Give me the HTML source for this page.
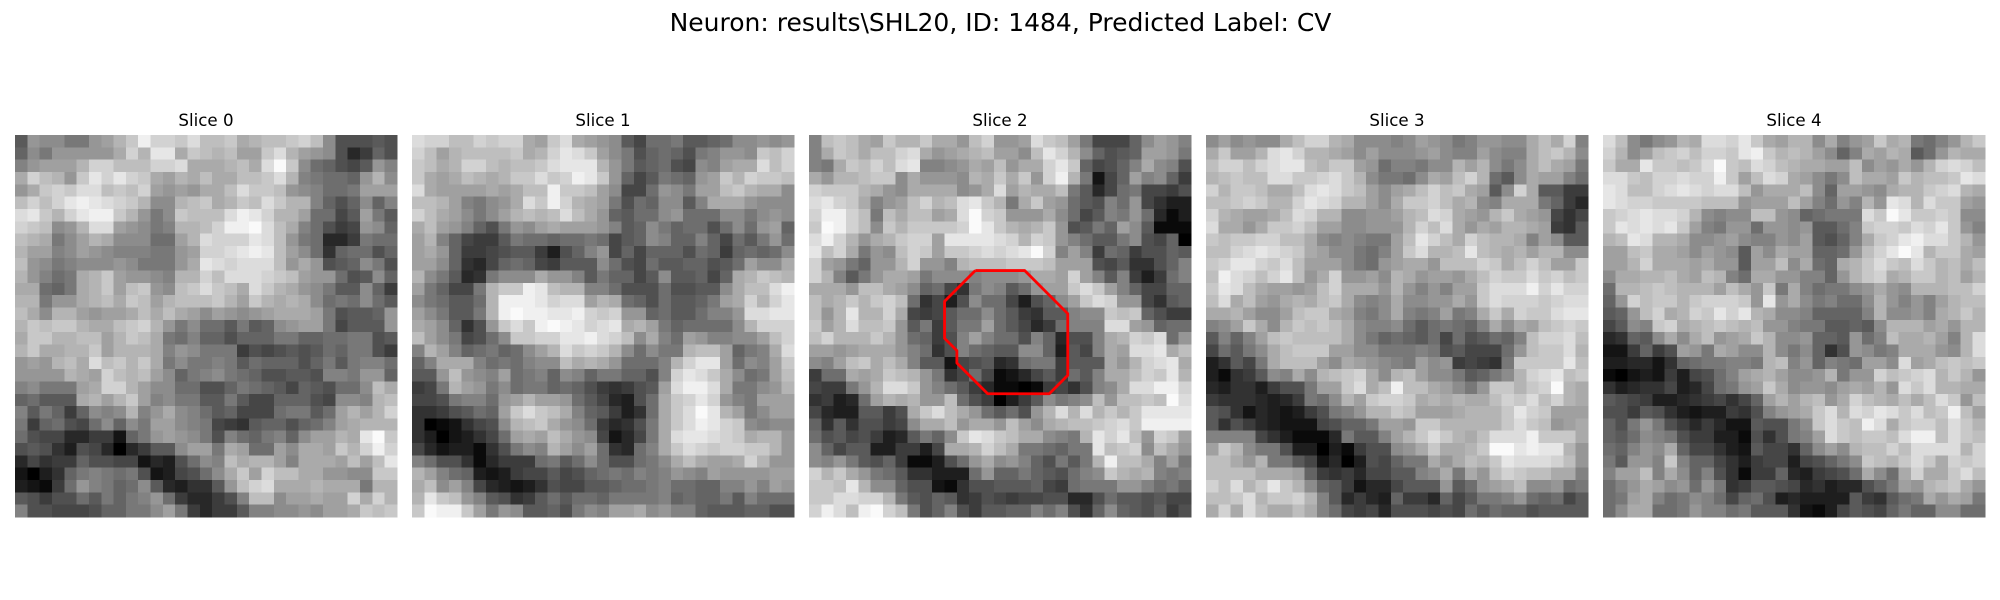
<!DOCTYPE html>
<html>
<head>
<meta charset="utf-8">
<title>Neuron slices</title>
<style>
html,body{margin:0;padding:0;background:#fff;width:2000px;height:600px;overflow:hidden}
svg{display:block}
text{font-family:"DejaVu Sans",sans-serif;fill:#000}
</style>
</head>
<body>
<svg id="chart" width="2000" height="600" viewBox="0 0 2000 600" xmlns="http://www.w3.org/2000/svg">
<rect width="2000" height="600" fill="#fff"/>
<text x="1000.5" y="31" font-size="25" text-anchor="middle">Neuron: results\SHL20, ID: 1484, Predicted Label: CV</text>
</svg>
<script>
const sliceTitles = ["Slice 0","Slice 1","Slice 2","Slice 3","Slice 4"];
const contourSlice = 2;
const contourX = [13,17,20.5,20.5,19,14,11.5,11.5,10.5,10.5,13];
const contourY = [10.5,10.5,14,19,20.5,20.5,18,17,16,13,10.5];
const slice0 = [
[9,15,14,14,12,12,15,16,18,20,24,21,21,20,22,19,19,20,17,18,19,19,20,21,19,14,8,8,8,9,8],
[10,14,12,15,15,15,15,15,17,21,18,23,23,17,20,19,18,19,16,16,20,22,18,16,15,14,8,4,6,10,8],
[13,15,16,16,16,18,21,21,19,19,19,21,21,22,17,17,17,18,19,17,22,25,20,14,11,10,8,7,9,15,13],
[17,21,19,18,15,20,23,21,23,21,20,17,16,18,17,19,17,17,19,19,20,22,18,13,12,11,11,10,15,18,14],
[15,17,20,21,20,22,22,19,20,19,21,16,15,16,15,17,17,19,22,20,20,19,15,14,13,11,11,12,16,16,16],
[19,21,19,21,23,24,23,22,21,20,18,14,14,18,19,20,17,18,20,19,22,20,18,18,13,10,8,10,14,10,13],
[22,23,20,18,21,23,24,24,20,18,15,12,14,20,19,19,19,22,24,23,21,18,18,16,11,11,7,9,16,12,9],
[21,20,19,14,15,18,22,22,16,15,14,12,13,18,18,19,21,24,24,25,22,19,17,13,11,8,6,7,15,14,10],
[19,18,17,12,14,16,18,17,14,14,14,11,11,16,18,22,21,21,21,23,22,19,15,12,11,4,4,6,12,11,11],
[18,16,16,13,14,16,15,14,13,13,13,12,12,15,16,21,21,22,23,24,23,19,16,14,11,5,10,11,11,8,10],
[19,15,14,12,13,14,14,14,15,14,12,12,12,15,17,23,22,21,22,22,22,19,15,17,15,8,9,10,14,12,8],
[18,15,13,11,12,17,18,20,16,15,15,14,13,18,18,21,19,22,22,22,21,20,19,16,15,15,11,8,9,14,10],
[17,17,11,10,12,17,18,20,16,19,20,15,14,19,20,22,20,19,17,22,20,18,17,15,14,12,9,9,14,10,6],
[18,18,12,15,15,17,18,19,17,20,19,16,18,19,19,19,20,18,16,20,18,17,18,17,14,11,12,11,14,11,9],
[19,17,14,18,18,16,15,16,16,17,19,17,19,17,16,14,16,15,14,15,16,17,17,17,16,12,8,9,9,10,15],
[18,20,19,20,20,18,17,17,19,20,21,18,15,12,14,11,11,9,12,9,10,14,15,16,16,12,7,9,9,9,15],
[17,20,20,18,18,19,19,16,18,20,19,17,12,11,13,10,10,8,10,10,10,12,12,10,10,11,11,12,12,8,9],
[18,20,17,17,18,18,20,16,18,18,18,17,13,15,14,12,12,12,6,8,7,8,9,8,9,11,10,12,12,8,6],
[15,16,15,18,19,17,22,19,20,18,20,17,12,14,12,12,13,12,9,11,10,10,10,8,10,12,9,12,13,13,11],
[15,15,15,15,18,17,16,21,19,18,19,16,14,10,12,13,14,12,11,10,8,8,9,9,8,13,13,12,15,15,10],
[13,14,12,12,12,16,17,21,21,18,16,14,14,11,11,8,8,10,12,11,10,9,7,10,9,8,11,11,14,19,17],
[10,11,9,9,9,17,18,16,18,20,16,13,14,12,12,9,9,12,9,7,7,10,10,10,8,7,14,14,13,18,19],
[13,9,12,10,6,10,14,13,14,18,13,15,17,14,13,11,9,10,7,7,7,11,12,12,9,11,16,18,16,18,21],
[12,6,10,11,8,7,11,14,10,14,12,16,16,14,13,12,7,6,5,9,10,10,8,10,11,13,16,17,18,18,18],
[11,8,7,7,4,4,6,6,2,10,12,15,16,15,14,12,8,13,11,10,12,13,10,14,16,16,18,17,23,25,20],
[8,9,8,5,3,8,7,4,0,4,6,9,9,14,16,16,12,17,16,11,11,16,14,17,17,16,20,18,21,24,21],
[4,7,5,6,6,10,8,8,7,7,2,4,3,8,11,14,13,19,17,18,18,16,13,17,17,17,16,19,16,19,23],
[2,0,3,5,10,12,13,12,11,12,8,2,3,7,8,11,14,17,20,16,21,19,19,17,17,15,15,14,14,20,20],
[3,2,1,6,11,15,13,12,10,11,14,9,4,3,5,5,9,15,19,21,22,17,17,17,18,17,17,17,12,18,18],
[9,8,6,8,8,11,9,12,10,12,13,15,11,6,4,4,6,8,13,19,19,14,16,16,17,16,16,21,17,21,18],
[13,8,8,7,7,7,8,10,10,12,12,14,16,12,6,4,6,6,9,13,13,14,14,15,14,16,16,17,20,19,20]
];
const slice1 = [
[22,21,21,19,19,21,20,21,21,17,16,20,22,17,16,15,14,9,7,11,11,12,9,9,10,11,14,14,15,14,15],
[21,19,16,18,19,19,19,19,20,17,18,21,23,22,20,16,14,12,8,10,11,10,8,12,13,15,15,14,20,19,21],
[20,19,17,18,21,21,19,18,19,19,20,22,23,23,23,18,15,12,9,10,11,8,7,14,13,16,17,17,22,19,21],
[20,17,16,17,19,18,17,18,20,20,22,20,21,24,23,20,15,10,7,9,12,11,10,15,16,20,18,21,20,20,19],
[22,17,16,16,16,16,17,16,17,19,19,24,20,20,19,16,14,7,7,11,15,14,12,16,16,19,20,18,17,17,14],
[19,19,18,16,13,12,14,15,17,22,20,24,21,18,17,16,12,8,11,10,14,14,9,13,17,17,17,15,14,14,14],
[21,19,17,16,14,12,14,16,18,19,18,19,22,19,17,15,10,9,11,11,14,15,11,11,11,14,14,12,14,15,14],
[17,19,16,15,13,10,8,12,15,14,16,17,16,16,16,15,13,9,10,14,12,10,11,11,8,11,14,11,15,16,10],
[16,18,13,10,7,6,6,9,12,11,11,10,11,11,12,11,7,9,10,14,13,10,10,13,10,7,11,9,12,15,11],
[16,17,15,10,6,6,7,8,9,9,6,3,8,10,13,15,7,10,7,10,10,10,8,11,10,6,10,11,10,11,14],
[16,16,14,10,5,4,7,10,11,10,7,6,9,9,9,14,11,8,7,11,9,9,10,10,8,9,11,16,14,14,17],
[18,14,12,9,4,5,12,14,14,14,17,15,15,13,9,12,10,10,7,9,14,9,9,10,7,10,17,18,20,19,18],
[16,12,10,7,7,12,18,20,20,24,23,19,18,18,13,13,11,8,8,8,11,8,8,9,9,14,17,19,19,22,24],
[14,12,11,9,9,11,18,24,24,24,23,21,22,22,16,18,17,11,10,8,11,9,9,10,12,16,17,21,18,21,23],
[16,14,12,9,9,12,18,24,25,24,24,23,23,24,21,20,21,15,15,10,11,9,9,11,13,13,15,22,22,23,23],
[17,16,14,10,5,8,15,20,22,20,24,25,24,23,21,22,23,17,18,16,12,10,11,11,11,11,14,18,21,21,21],
[19,16,14,12,7,8,11,14,20,20,21,21,23,23,24,22,21,19,14,17,13,11,16,15,13,13,14,14,16,19,21],
[13,18,16,13,10,11,12,10,11,14,16,18,22,20,21,20,18,14,11,14,12,12,18,19,19,16,10,12,13,17,22],
[10,13,17,17,17,13,11,12,11,13,14,14,19,17,18,17,15,11,11,11,13,18,21,23,23,16,11,14,13,16,20],
[9,9,15,19,15,14,13,16,11,12,13,10,14,13,10,12,12,10,10,8,13,21,23,22,20,17,14,11,12,16,19],
[6,7,12,18,16,15,12,14,11,12,12,10,11,10,8,6,5,6,8,9,16,22,24,24,22,17,12,12,14,15,18],
[7,7,8,12,13,13,11,15,16,18,16,16,15,11,9,7,4,3,8,11,17,20,21,23,21,15,13,12,16,16,16],
[5,5,6,8,9,11,10,16,20,22,20,19,17,13,10,9,6,3,5,11,17,20,22,25,23,18,16,12,14,16,16],
[5,0,1,2,5,7,8,14,18,19,20,17,15,14,11,6,4,5,8,12,17,20,22,24,23,21,20,14,13,14,14],
[5,3,0,2,3,5,7,11,16,17,16,19,17,15,14,7,2,4,7,12,17,22,23,23,22,21,20,17,18,18,15],
[7,4,2,3,3,1,5,8,12,14,13,18,16,14,16,11,5,4,11,13,17,20,22,21,20,21,21,20,20,18,15],
[13,11,8,8,5,1,4,6,6,6,11,12,9,11,14,11,8,8,11,12,14,17,19,17,16,16,17,21,18,15,15],
[18,16,13,11,10,3,2,3,6,7,7,9,7,8,10,11,12,11,13,12,13,15,14,13,16,15,15,15,15,16,16],
[17,19,14,16,13,7,4,3,2,3,5,8,7,7,9,9,10,11,11,12,13,11,11,10,10,13,13,15,13,16,15],
[18,23,20,19,15,13,9,8,5,6,9,11,9,11,11,10,12,12,12,12,13,10,11,10,10,12,9,13,11,11,11],
[20,25,24,24,20,16,12,15,14,9,9,10,8,12,14,13,16,16,17,14,15,13,13,10,9,9,9,10,10,8,8]
];
const slice2 = [
[13,19,20,19,17,16,20,18,18,20,17,17,15,19,21,15,15,16,22,20,19,16,12,7,7,7,10,14,16,15,13],
[13,17,20,19,17,19,19,21,22,17,15,16,17,18,19,16,16,14,19,23,21,18,14,10,8,9,10,16,16,15,12],
[13,12,17,20,19,21,19,22,23,13,13,14,15,17,16,19,15,17,17,21,23,20,10,7,8,10,13,17,14,13,8],
[17,15,18,18,19,20,20,14,17,15,15,15,14,18,17,20,17,20,15,21,24,18,12,2,7,10,16,13,14,10,6],
[21,20,20,20,18,17,15,14,17,17,17,17,14,15,17,22,16,18,17,17,19,12,9,4,7,11,12,7,7,6,8],
[22,23,21,20,17,13,15,16,19,21,18,19,22,23,20,18,12,17,20,16,15,11,9,8,13,11,15,7,5,3,3],
[21,24,24,21,19,12,19,17,19,19,16,17,22,25,21,20,15,15,15,17,14,11,7,9,13,12,15,11,4,1,3],
[20,25,24,21,19,14,20,18,20,20,20,20,21,25,23,20,18,17,18,20,15,8,9,12,10,16,14,9,1,1,1],
[22,24,21,18,15,17,18,20,21,21,16,23,23,23,23,22,21,18,21,20,15,13,11,9,9,12,14,8,7,10,0],
[23,19,21,17,12,15,14,19,21,20,16,20,20,21,22,21,22,23,25,21,13,16,13,6,11,10,6,8,8,10,9],
[21,16,15,12,10,15,15,18,21,15,15,13,18,19,19,19,20,20,20,19,16,16,16,8,7,9,5,5,8,10,13],
[21,18,13,9,12,15,17,17,16,12,14,14,14,13,14,14,14,15,17,17,16,21,16,13,9,13,6,3,6,11,13],
[17,17,17,15,19,19,17,16,14,10,11,7,5,12,14,13,9,11,15,16,16,20,22,20,16,13,10,7,7,10,10],
[19,17,18,20,18,20,21,19,11,5,7,3,8,14,11,11,7,3,8,10,14,16,20,22,21,15,15,7,5,9,10],
[19,15,18,23,18,18,21,17,7,6,7,9,11,11,14,11,9,6,5,9,9,13,14,14,20,19,20,10,8,6,6],
[20,16,18,22,19,19,20,15,9,12,6,9,12,12,16,11,9,7,4,6,11,13,13,13,22,22,16,15,10,11,11],
[19,21,18,18,18,20,18,15,11,10,6,8,13,16,13,11,11,8,13,10,4,8,8,13,17,18,21,20,22,11,15],
[16,16,15,16,17,17,17,15,13,11,5,8,13,11,10,9,9,14,14,10,3,9,7,13,17,16,22,22,23,17,19],
[14,13,16,19,20,17,19,17,13,9,9,2,7,8,9,4,5,11,12,12,6,9,9,9,17,15,18,21,22,23,17],
[6,11,11,17,16,17,20,19,18,15,12,5,7,11,7,1,2,4,7,9,6,11,9,13,17,17,19,21,20,23,18],
[7,6,6,12,15,18,22,22,20,15,13,11,9,6,4,1,1,0,1,6,7,5,8,13,14,17,22,22,24,24,21],
[5,6,3,4,11,16,18,17,18,15,15,19,11,8,6,0,3,6,9,14,12,13,14,19,15,19,19,20,19,25,22],
[7,4,3,3,9,9,6,8,17,20,22,19,17,15,11,9,11,8,15,18,22,18,22,18,20,18,20,23,23,23,23],
[10,5,9,5,8,8,6,7,14,17,17,19,15,17,17,15,19,16,14,17,18,19,19,20,21,22,20,24,24,24,24],
[11,8,9,7,8,6,3,4,9,12,10,14,20,23,22,20,19,17,17,14,13,12,18,23,21,23,19,15,21,20,16],
[14,10,7,9,9,3,3,6,6,3,7,17,17,18,21,19,17,12,12,11,10,12,12,23,19,20,21,14,19,17,15],
[14,13,15,12,9,8,10,6,1,1,3,8,11,15,17,14,15,13,10,8,12,9,12,18,24,19,19,17,13,16,12],
[21,18,20,17,15,12,11,9,5,5,3,3,3,11,15,10,10,12,10,9,8,11,13,14,20,18,17,18,13,12,13],
[20,20,19,23,18,14,14,10,8,8,2,1,5,8,8,9,9,9,10,7,6,11,12,12,12,15,15,13,11,12,10],
[20,20,22,22,21,21,18,12,9,8,10,9,5,6,8,7,6,7,7,8,8,4,4,8,11,9,9,8,9,7,7],
[21,24,22,19,24,25,21,19,12,8,10,13,8,6,9,9,10,10,13,11,13,8,5,10,14,10,9,8,10,6,8]
];
const slice3 = [
[14,16,14,15,14,14,17,19,21,21,18,17,14,14,14,13,14,16,15,14,12,13,15,15,14,14,17,19,17,21,13],
[17,20,16,16,18,22,23,21,18,18,17,16,14,16,14,14,14,15,16,14,13,13,16,14,13,13,17,19,20,18,14],
[19,21,21,19,21,22,23,23,19,18,20,20,16,15,11,13,13,12,14,14,18,16,18,14,12,14,17,19,17,16,12],
[18,19,20,19,19,22,22,20,20,21,22,20,18,14,12,12,11,14,17,16,19,21,18,11,9,14,17,16,16,13,11],
[21,18,20,20,19,17,17,19,22,23,22,20,19,16,14,16,17,19,21,19,20,17,16,9,14,21,17,9,9,6,6],
[19,19,20,21,20,18,18,21,23,22,21,18,18,16,14,17,20,20,21,19,17,18,14,13,17,17,17,12,10,6,4],
[21,18,17,16,16,17,19,22,21,18,18,14,14,15,15,16,18,19,22,21,17,16,15,18,20,17,16,15,7,5,7],
[22,17,17,15,17,20,20,21,19,16,16,14,14,15,15,15,18,21,19,22,17,15,17,16,18,18,17,16,6,5,9],
[20,19,20,20,21,21,19,19,17,14,13,14,13,12,12,16,19,23,21,19,17,21,19,18,18,17,13,16,14,9,9],
[19,19,21,22,23,22,21,20,17,16,14,14,12,11,13,16,20,22,18,18,19,23,19,18,17,18,16,18,18,14,14],
[20,21,23,23,21,20,22,19,16,16,16,14,12,11,15,16,17,17,15,19,19,19,21,20,17,19,21,19,16,16,20],
[19,24,22,21,19,21,23,19,15,17,21,15,15,16,14,18,17,15,16,16,15,17,19,21,20,20,22,20,21,19,20],
[20,23,22,19,17,16,16,15,16,19,21,17,17,17,15,18,15,13,15,13,16,16,20,22,22,22,24,21,23,21,21],
[19,22,17,19,16,15,17,18,17,19,20,17,14,13,14,17,14,14,15,15,17,15,20,22,21,21,21,20,21,22,22],
[17,17,18,16,14,14,16,19,20,20,17,16,13,12,14,17,13,12,13,16,12,13,17,20,17,21,20,20,22,23,23],
[13,14,16,20,17,14,18,20,19,20,19,17,14,13,13,14,11,9,11,12,11,10,13,17,14,17,16,19,20,21,20],
[9,13,10,13,16,19,20,19,19,19,19,17,14,12,10,11,10,9,11,7,11,8,9,11,10,13,19,21,21,22,19],
[7,11,9,12,14,17,19,20,20,20,16,16,14,14,12,12,12,13,12,8,9,7,7,7,11,15,19,20,20,22,18],
[3,5,9,7,12,17,19,19,19,16,14,17,16,15,14,13,12,16,14,15,6,7,6,5,12,20,20,20,20,23,19],
[3,1,5,6,9,14,13,17,14,18,19,20,21,17,14,18,19,16,14,14,12,9,10,12,14,18,21,22,23,19,20],
[4,3,5,5,3,6,8,8,12,16,16,20,22,17,19,24,19,19,17,16,14,12,15,20,20,18,20,21,25,18,17],
[6,5,5,5,4,3,4,6,12,11,14,18,16,20,21,21,20,17,18,17,18,17,17,19,21,20,22,19,21,18,17],
[9,8,5,2,4,3,2,3,6,8,12,13,15,18,18,20,19,16,16,16,17,18,18,18,20,23,21,20,16,16,16],
[9,5,8,6,4,3,2,2,2,7,8,10,10,12,16,16,15,20,20,18,18,18,18,18,20,22,20,19,15,16,17],
[13,13,13,13,7,5,3,1,1,1,4,12,9,9,13,16,18,20,22,20,18,17,19,22,22,22,24,20,20,20,17],
[16,20,18,14,12,12,8,3,3,0,3,1,6,8,8,14,15,17,20,17,17,18,20,25,25,23,24,23,23,18,15],
[19,19,17,15,18,12,12,9,7,2,4,0,3,8,7,10,12,12,17,15,17,19,18,20,23,22,22,22,21,19,15],
[19,19,19,19,17,17,17,16,10,6,5,6,4,7,7,9,9,13,14,17,12,17,15,19,21,20,19,19,17,17,13],
[21,19,22,18,20,23,20,18,14,10,9,6,2,4,4,7,9,9,9,15,9,11,15,16,17,19,14,14,15,11,12],
[19,19,20,22,18,20,20,21,18,13,9,4,6,4,3,10,6,6,4,10,7,9,12,12,13,15,11,10,11,7,9],
[17,21,17,22,19,17,17,19,17,13,11,7,6,7,4,8,8,8,7,8,7,11,9,11,10,10,8,9,9,9,9]
];
const slice4 = [
[22,19,14,12,14,15,18,17,22,22,21,23,20,17,16,18,18,14,17,13,15,16,20,17,18,12,11,13,15,18,20],
[21,18,14,16,19,20,21,19,21,21,20,23,24,20,18,19,18,16,14,10,13,17,16,18,17,9,11,15,18,17,17],
[20,17,17,23,20,20,19,20,22,25,20,19,22,21,19,18,17,17,16,16,19,14,16,15,17,15,18,21,22,21,19],
[22,22,20,19,21,21,22,21,21,24,20,16,19,22,21,17,16,14,12,14,19,17,17,16,20,18,19,19,20,23,22],
[23,22,19,19,21,22,23,22,21,22,22,19,15,17,17,17,19,14,10,16,16,15,14,17,18,18,20,21,22,18,17],
[23,22,21,21,20,20,20,20,19,19,19,15,16,16,16,19,16,13,11,15,13,18,15,23,22,18,22,20,20,16,15],
[20,21,22,23,22,22,21,18,14,13,14,14,19,19,15,14,10,11,12,12,12,22,20,25,23,20,20,21,20,14,14],
[20,23,22,23,22,23,20,16,13,12,15,15,11,15,15,14,15,9,9,11,13,20,21,21,20,22,21,23,20,15,13],
[18,19,23,22,18,18,17,14,14,15,16,14,13,13,15,14,16,9,8,10,13,17,20,21,23,24,22,22,20,18,15],
[16,16,19,20,17,17,16,14,16,15,14,9,16,14,17,16,16,10,10,11,15,19,21,23,25,23,18,20,20,17,16],
[16,16,18,21,17,17,17,16,17,15,15,9,16,16,19,14,17,11,10,17,18,20,22,20,19,22,20,18,19,17,19],
[14,17,17,18,18,19,17,16,19,18,13,11,17,17,15,15,13,13,10,15,18,20,21,17,18,20,20,18,19,16,18],
[11,18,18,19,20,19,18,18,18,16,19,17,15,20,12,17,13,11,12,12,14,15,17,15,14,18,18,18,19,19,21],
[10,15,21,19,20,20,18,20,21,21,21,20,15,23,15,17,14,12,13,11,11,14,18,15,13,15,13,16,18,19,19],
[9,10,15,19,21,17,18,21,20,23,21,23,18,17,14,14,13,10,10,10,10,13,18,14,14,15,13,17,18,20,18],
[7,9,14,13,20,21,17,18,19,20,19,18,19,15,15,13,12,12,9,9,10,9,14,18,18,18,16,17,15,18,18],
[4,5,10,9,14,17,14,17,19,15,16,17,20,18,14,14,15,10,10,9,15,11,13,19,17,17,18,16,13,18,22],
[2,2,6,10,6,8,16,15,12,17,16,14,14,18,14,12,14,10,5,8,15,14,12,13,17,17,17,15,14,18,22],
[3,3,4,4,2,5,10,11,12,12,13,13,12,18,19,13,15,10,13,12,11,16,16,14,22,16,17,19,20,19,20],
[1,0,2,3,2,6,3,7,8,11,13,16,17,18,16,14,14,15,18,12,15,15,21,19,20,21,22,18,20,18,15],
[5,3,4,5,5,7,3,4,7,11,12,15,16,20,17,14,15,15,14,16,17,16,18,15,22,20,22,18,18,17,17],
[9,8,7,6,3,3,4,5,6,7,5,7,10,16,18,16,18,19,15,17,21,19,18,17,19,17,19,22,20,15,19],
[8,8,6,9,8,5,3,2,3,3,6,5,8,13,15,16,17,20,22,18,22,21,23,22,20,22,19,20,24,19,16],
[10,8,12,15,12,8,6,4,6,4,2,2,9,8,8,12,14,20,22,20,19,24,22,17,20,21,21,19,22,20,18],
[10,9,11,14,13,12,8,6,6,3,3,1,8,5,8,12,13,16,22,20,19,20,20,19,22,24,24,19,22,20,19],
[11,10,13,15,14,17,10,7,7,5,3,2,9,7,7,5,10,14,16,14,18,19,19,21,19,22,22,22,22,18,21],
[12,9,15,15,13,20,13,10,10,7,5,3,6,7,7,3,7,8,10,12,14,20,19,18,20,22,20,17,21,20,21],
[13,16,16,19,13,17,14,10,13,8,5,1,6,6,10,4,3,6,7,8,11,17,14,11,17,21,17,17,20,22,19],
[11,13,15,17,16,14,15,11,15,12,5,6,9,9,8,7,4,5,3,4,4,8,10,12,16,15,18,19,20,17,15],
[11,12,16,17,13,11,12,14,13,11,7,10,11,8,3,4,3,3,3,3,9,6,5,9,11,12,17,15,17,16,12],
[11,14,17,17,11,11,12,15,13,13,11,12,9,9,9,5,2,1,3,7,9,8,7,10,12,10,10,14,14,11,11]
];
const slices = [slice0, slice1, slice2, slice3, slice4];

const svgNS = "http://www.w3.org/2000/svg";
const chart = document.getElementById("chart");
const panelLeft = 15, panelStep = 397, panelTop = 135, panelSize = 382, gridSize = 31;
const cellSize = panelSize / gridSize;

function xScale(panel, col) { return panelLeft + panel * panelStep + (col + 0.5) * cellSize; }
function yScale(row) { return panelTop + (row + 0.5) * cellSize; }
function grayColor(v) {
  const g = Math.max(0, Math.min(255, Math.round(v * 10)));
  return "rgb(" + g + "," + g + "," + g + ")";
}

slices.forEach(function (grid, p) {
  const group = document.createElementNS(svgNS, "g");
  
  
  group.setAttribute('shape-rendering', 'crispEdges');
  grid.forEach(function (row, r) {
    row.forEach(function (value, c) {
      const x0 = xScale(p, c - 0.5), x1 = xScale(p, c + 0.5);
      const y0 = yScale(r - 0.5), y1 = yScale(r + 0.5);
      const cell = document.createElementNS(svgNS, "rect");
      
      
      cell.setAttribute('x', x0.toFixed(2));
      cell.setAttribute('y', y0.toFixed(2));
      cell.setAttribute('width', (x1 - x0 + 0.4).toFixed(2));
      cell.setAttribute('height', (y1 - y0 + 0.4).toFixed(2));
      cell.setAttribute('fill', grayColor(value));
      group.appendChild(cell);
    });
  });
  chart.appendChild(group);

  const label = document.createElementNS(svgNS, "text");
  
  
  label.setAttribute('x', (xScale(p, -0.5) + panelSize / 2).toFixed(2));
  label.setAttribute('y', '126');
  label.setAttribute('font-size', '16.67');
  label.setAttribute('text-anchor', 'middle');
  label.textContent = sliceTitles[p];
  chart.appendChild(label);
});

const outline = document.createElementNS(svgNS, "polyline");


outline.setAttribute('points', contourX.map(function (x, i) {
  return xScale(contourSlice, x).toFixed(2) + "," + yScale(contourY[i]).toFixed(2);
}).join(" "));
outline.setAttribute('fill', 'none');
outline.setAttribute('stroke', '#ff0000');
outline.setAttribute('stroke-width', '2.8');
outline.setAttribute('stroke-linejoin', 'round');
chart.appendChild(outline);
</script>
</body>
</html>
